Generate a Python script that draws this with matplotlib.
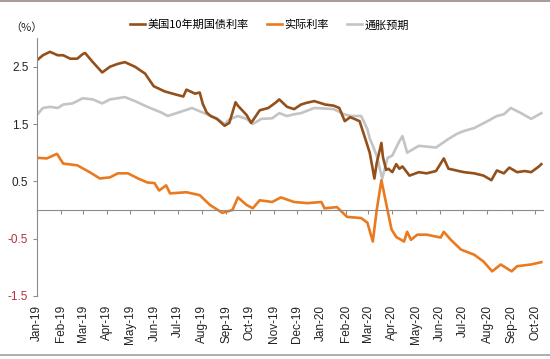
import pandas as pd
import matplotlib.pyplot as plt
import matplotlib.transforms as mtransforms
from matplotlib.lines import Line2D

plt.rcParams['font.family'] = ['Liberation Sans', 'Noto Sans CJK SC', 'DejaVu Sans']

# 美国10年期国债利率
nominal_dates = [
    "2019-01-02", "2019-01-09", "2019-01-18", "2019-01-28", "2019-02-04", "2019-02-13",
    "2019-02-22", "2019-03-01", "2019-03-04", "2019-03-14", "2019-03-26", "2019-04-05",
    "2019-04-15", "2019-04-24", "2019-05-07", "2019-05-20", "2019-05-31", "2019-06-14",
    "2019-06-27", "2019-07-08", "2019-07-12", "2019-07-23", "2019-07-29", "2019-08-02",
    "2019-08-07", "2019-08-12", "2019-08-20", "2019-08-30", "2019-09-05", "2019-09-13",
    "2019-09-16", "2019-09-27", "2019-10-03", "2019-10-14", "2019-10-25", "2019-11-04",
    "2019-11-08", "2019-11-18", "2019-11-27", "2019-12-06", "2019-12-13", "2019-12-23",
    "2020-01-06", "2020-01-17", "2020-01-24", "2020-01-31", "2020-02-07", "2020-02-14",
    "2020-02-19", "2020-02-25", "2020-03-03", "2020-03-06", "2020-03-09", "2020-03-12",
    "2020-03-18", "2020-03-20", "2020-03-24", "2020-03-27", "2020-04-01", "2020-04-06",
    "2020-04-10", "2020-04-14", "2020-04-23", "2020-05-05", "2020-05-15", "2020-05-27",
    "2020-06-06", "2020-06-12", "2020-06-19", "2020-06-25", "2020-07-02", "2020-07-15",
    "2020-07-27", "2020-08-06", "2020-08-13", "2020-08-22", "2020-08-29", "2020-09-08",
    "2020-09-18", "2020-09-26", "2020-10-06", "2020-10-09",
]
nominal = [
    2.62, 2.70, 2.76, 2.70, 2.70, 2.64,
    2.64, 2.72, 2.74, 2.58, 2.40, 2.50,
    2.55, 2.58, 2.50, 2.38, 2.16, 2.07,
    2.02, 1.98, 2.10, 2.03, 2.05, 1.85,
    1.70, 1.64, 1.59, 1.47, 1.52, 1.88,
    1.82, 1.66, 1.52, 1.74, 1.78, 1.88,
    1.93, 1.80, 1.76, 1.84, 1.87, 1.90,
    1.84, 1.82, 1.78, 1.55, 1.62, 1.58,
    1.55, 1.30, 1.00, 0.78, 0.55, 0.82,
    1.17, 0.92, 0.70, 0.72, 0.66, 0.80,
    0.72, 0.76, 0.60, 0.66, 0.64, 0.68,
    0.90, 0.72, 0.70, 0.68, 0.66, 0.64,
    0.60, 0.52, 0.69, 0.64, 0.74, 0.66,
    0.68, 0.66, 0.76, 0.80,
]

# 实际利率
real_dates = [
    "2019-01-02", "2019-01-14", "2019-01-27", "2019-02-04", "2019-02-22", "2019-03-10",
    "2019-03-23", "2019-04-05", "2019-04-15", "2019-04-28", "2019-05-11", "2019-05-23",
    "2019-06-01", "2019-06-07", "2019-06-16", "2019-06-21", "2019-07-12", "2019-07-29",
    "2019-08-11", "2019-08-27", "2019-09-09", "2019-09-16", "2019-09-27", "2019-10-05",
    "2019-10-14", "2019-10-30", "2019-11-10", "2019-11-27", "2019-12-14", "2020-01-01",
    "2020-01-05", "2020-01-21", "2020-02-03", "2020-02-21", "2020-02-29", "2020-03-07",
    "2020-03-12", "2020-03-18", "2020-03-24", "2020-03-31", "2020-04-06", "2020-04-16",
    "2020-04-20", "2020-04-25", "2020-05-03", "2020-05-15", "2020-06-02", "2020-06-06",
    "2020-06-15", "2020-06-28", "2020-07-15", "2020-07-27", "2020-08-07", "2020-08-18",
    "2020-09-01", "2020-09-08", "2020-09-26", "2020-10-09",
]
real = [
    0.91, 0.90, 0.98, 0.81, 0.78, 0.66,
    0.55, 0.57, 0.64, 0.64, 0.55, 0.48,
    0.47, 0.34, 0.43, 0.29, 0.31, 0.26,
    0.09, -0.05, 0.00, 0.22, 0.09, 0.03,
    0.17, 0.14, 0.22, 0.14, 0.12, 0.14,
    0.03, 0.05, -0.12, -0.14, -0.22, -0.55,
    0.00, 0.52, 0.12, -0.34, -0.47, -0.55,
    -0.38, -0.52, -0.43, -0.43, -0.48, -0.38,
    -0.52, -0.69, -0.78, -0.90, -1.07, -0.95,
    -1.07, -0.98, -0.95, -0.91,
]

# 通胀预期
be_dates = [
    "2019-01-02", "2019-01-09", "2019-01-18", "2019-01-28", "2019-02-04", "2019-02-16",
    "2019-03-01", "2019-03-14", "2019-03-26", "2019-04-05", "2019-04-15", "2019-04-24",
    "2019-05-07", "2019-05-23", "2019-06-10", "2019-06-18", "2019-07-06", "2019-07-19",
    "2019-08-02", "2019-08-20", "2019-08-30", "2019-09-05", "2019-09-16", "2019-09-27",
    "2019-10-05", "2019-10-16", "2019-10-30", "2019-11-08", "2019-11-18", "2019-11-27",
    "2019-12-06", "2019-12-23", "2020-01-06", "2020-01-17", "2020-01-30", "2020-02-08",
    "2020-02-21", "2020-02-29", "2020-03-03", "2020-03-07", "2020-03-12", "2020-03-19",
    "2020-03-26", "2020-04-01", "2020-04-10", "2020-04-14", "2020-04-20", "2020-05-05",
    "2020-05-27", "2020-06-12", "2020-06-23", "2020-07-02", "2020-07-15", "2020-08-01",
    "2020-08-13", "2020-08-22", "2020-08-31", "2020-09-13", "2020-09-26", "2020-10-09",
]
breakeven = [
    1.67, 1.78, 1.80, 1.78, 1.84, 1.86,
    1.95, 1.93, 1.86, 1.93, 1.95, 1.97,
    1.90, 1.80, 1.70, 1.64, 1.72, 1.78,
    1.70, 1.60, 1.50, 1.58, 1.64, 1.59,
    1.50, 1.59, 1.60, 1.69, 1.64, 1.67,
    1.69, 1.78, 1.77, 1.76, 1.67, 1.64,
    1.64, 1.41, 1.25, 1.12, 0.95, 0.55,
    0.91, 0.95, 1.20, 1.29, 1.00, 1.12,
    1.09, 1.24, 1.33, 1.38, 1.43, 1.55,
    1.64, 1.67, 1.78, 1.69, 1.59, 1.69,
]

months = pd.date_range("2019-01-01", "2020-10-01", freq="MS")
y_ticks = [-1.5, -0.5, 0.5, 1.5, 2.5]

c_nominal = "#94501A"
c_real = "#EA7A1F"
c_be = "#C4C4C4"

fig = plt.figure(figsize=(5.5, 3.59), dpi=100)
ax = fig.add_axes([0.0667, 0.1755, 0.9203, 0.7185])

l_be, = ax.plot(pd.to_datetime(be_dates), breakeven, color=c_be, lw=1.9, label="通胀预期")
l_nom, = ax.plot(pd.to_datetime(nominal_dates), nominal, color=c_nominal, lw=1.9,
                 label="美国10年期国债利率")
l_real, = ax.plot(pd.to_datetime(real_dates), real, color=c_real, lw=1.9, label="实际利率")

ax.set_xlim(pd.Timestamp("2019-01-01"), pd.Timestamp("2020-10-11"))
ax.set_ylim(-1.5, 3.0)
ax.set_yticks(y_ticks)
ax.set_yticklabels([f"{v:.1f}" for v in y_ticks], fontsize=8.5)
for lab, v in zip(ax.get_yticklabels(), y_ticks):
    lab.set_color("#B5303F" if v < 0 else "#222222")

ax.spines["top"].set_visible(False)
ax.spines["right"].set_visible(False)
ax.spines["left"].set_color("#8C8C8C")
ax.spines["bottom"].set_position(("data", 0))
ax.spines["bottom"].set_color("#8C8C8C")
ax.tick_params(axis="y", length=3, color="#8C8C8C", pad=3)
ax.set_xticks(months)
ax.tick_params(axis="x", length=3, color="#8C8C8C", labelbottom=False)

# month labels below the plot area
trans = mtransforms.blended_transform_factory(ax.transData, ax.transAxes)
for m in months:
    ax.text(m, -0.035, m.strftime("%b-%y"), transform=trans, rotation=90,
            ha="center", va="top", fontsize=8.5, color="#222222")

fig.text(0.018, 0.922, "（%）", fontsize=8, color="#222222",
         family=["Noto Sans CJK SC", "DejaVu Sans"], va="center")

fig.legend(handles=[l_nom, l_real, l_be], loc="center", bbox_to_anchor=(0.49, 0.93),
           ncol=3, frameon=False, handlelength=1.4, handletextpad=0.2,
           columnspacing=1.6, prop={"family": ["Noto Sans CJK SC", "DejaVu Sans"], "size": 8})

fig.add_artist(Line2D([0, 1], [0.997, 0.997], color="#9A8A85", lw=1.2))
fig.add_artist(Line2D([0, 1], [0.01, 0.01], color="#A0A0A0", lw=1.2))

fig.savefig("out.png", dpi=100, facecolor="white")
